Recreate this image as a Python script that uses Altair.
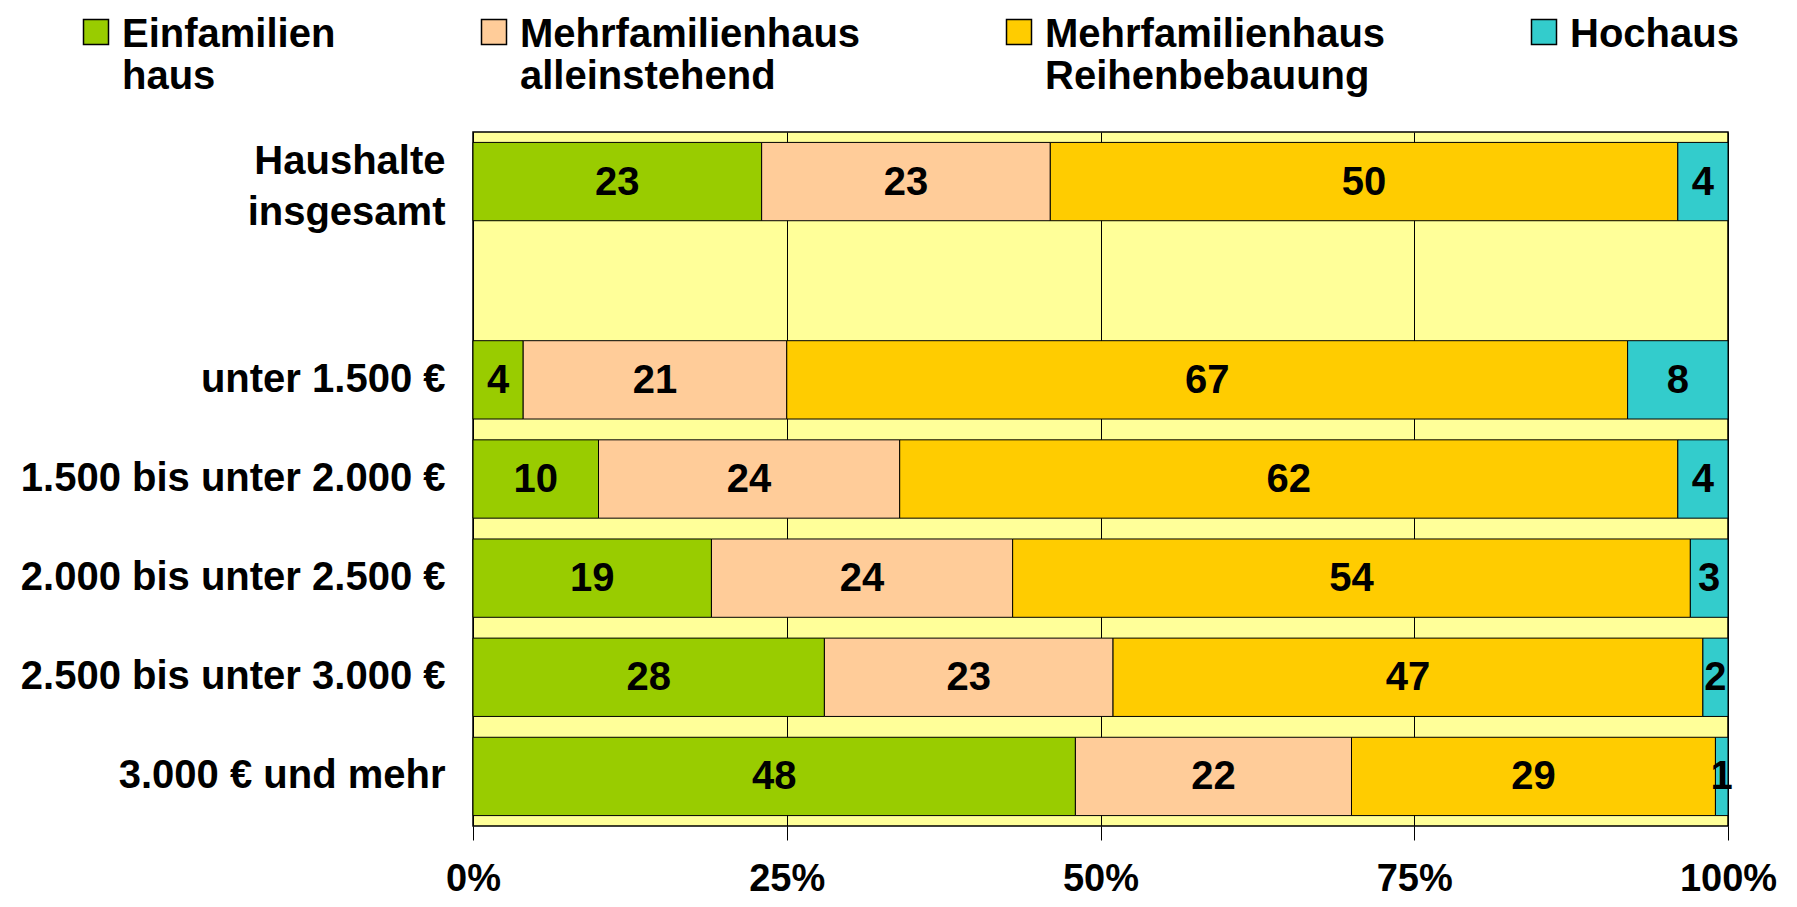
import altair as alt
import pandas as pd

FONT = "Liberation Sans"

# Categories (y axis), with an empty spacer row after the total
categories = [
    "Haushalte insgesamt",
    "unter 1.500 €",
    "1.500 bis unter 2.000 €",
    "2.000 bis unter 2.500 €",
    "2.500 bis unter 3.000 €",
    "3.000 € und mehr",
]
row_order = [categories[0], " "] + categories[1:]

# Series (building types)
types = [
    "Einfamilien\nhaus",
    "Mehrfamilienhaus\nalleinstehend",
    "Mehrfamilienhaus\nReihenbebauung",
    "Hochaus\n ",
]
colors = ["#99CC00", "#FFCC99", "#FFCC00", "#33CCCC"]

# Values in percent per category
einfamilienhaus = [23, 4, 10, 19, 28, 48]
mfh_alleinstehend = [23, 21, 24, 24, 23, 22]
mfh_reihe = [50, 67, 62, 54, 47, 29]
hochaus = [4, 8, 4, 3, 2, 1]

tick_values = [0, 0.25, 0.5, 0.75, 1]

series = [einfamilienhaus, mfh_alleinstehend, mfh_reihe, hochaus]
rows = []
for ti, (t, vals) in enumerate(zip(types, series)):
    for c, v in zip(categories, vals):
        rows.append({"cat": c, "typ": t, "idx": ti, "value": v})
df = pd.DataFrame(rows)

xscale = alt.Scale(domain=[0, 1], nice=False, zero=True)
yscale = alt.Scale(domain=row_order, paddingInner=0.21, paddingOuter=0.105)

base = alt.Chart(df).transform_stack(
    stack="value",
    groupby=["cat"],
    as_=["x0", "x1"],
    offset="normalize",
    sort=[alt.SortField("idx", order="ascending")],
).transform_calculate(mid="(datum.x0 + datum.x1) / 2")

bars = base.mark_bar(stroke="black", strokeWidth=1).encode(
    y=alt.Y(
        "cat:N",
        scale=yscale,
        title=None,
        axis=alt.Axis(
            domain=False,
            ticks=False,
            grid=False,
            labelFont=FONT,
            labelFontSize=40,
            labelFontWeight="bold",
            labelColor="black",
            labelPadding=28,
            labelLimit=600,
            labelLineHeight=51,
            labelBaseline=alt.ExprRef(
                expr="datum.value == 'Haushalte insgesamt' ? 'bottom' : 'middle'"
            ),
            labelExpr="datum.value == 'Haushalte insgesamt' ? ['Haushalte', 'insgesamt'] : datum.value",
        ),
    ),
    x=alt.X(
        "x0:Q",
        scale=xscale,
        title=None,
        axis=alt.Axis(
            values=tick_values,
            format=".0%",
            grid=True,
            gridColor="black",
            gridWidth=1,
            gridOpacity=1,
            domain=False,
            ticks=True,
            tickSize=14,
            tickColor="black",
            tickWidth=1,
            labelFont=FONT,
            labelFontSize=38,
            labelFontWeight="bold",
            labelColor="black",
            labelPadding=20,
            labelFlush=False,
            labelOverlap=False,
        ),
    ),
    x2="x1:Q",
    color=alt.Color(
        "typ:N",
        scale=alt.Scale(domain=types, range=colors),
        legend=alt.Legend(
            title=None,
            orient="none",
            legendX=-397,
            legendY=-137,
            direction="horizontal",
            columns=4,
            columnPadding=138,
            rowPadding=0,
            padding=0,
            labelExpr="split(datum.label, '\\n')",
            labelBaseline="top",
            labelFont=FONT,
            labelFontSize=40,
            labelFontWeight="bold",
            labelColor="black",
            labelLimit=600,
            labelOffset=6,
            symbolType="M-1,0.36H1V2.36H-1Z",
            symbolSize=625,
            symbolStrokeColor="black",
            symbolStrokeWidth=1.5,
            symbolOpacity=1,
        ),
    ),
)

text = base.mark_text(
    font=FONT, fontSize=40, fontWeight="bold", color="black", baseline="middle", dy=1
).encode(
    y=alt.Y("cat:N", scale=yscale, title=None),
    x=alt.X("mid:Q", scale=xscale, title=None),
    text=alt.Text("value:Q"),
)

chart = (
    alt.layer(bars, text)
    .properties(
        width=1255,
        height=694,
        autosize=alt.AutoSizeParams(type="none"),
        padding={"left": 465, "top": 124, "right": 61, "bottom": 73},
    )
    .configure_view(fill="#FFFF99", stroke="black", strokeWidth=1.5)
)

chart.save("out.html", embed_options={"renderer": "svg", "actions": False})
